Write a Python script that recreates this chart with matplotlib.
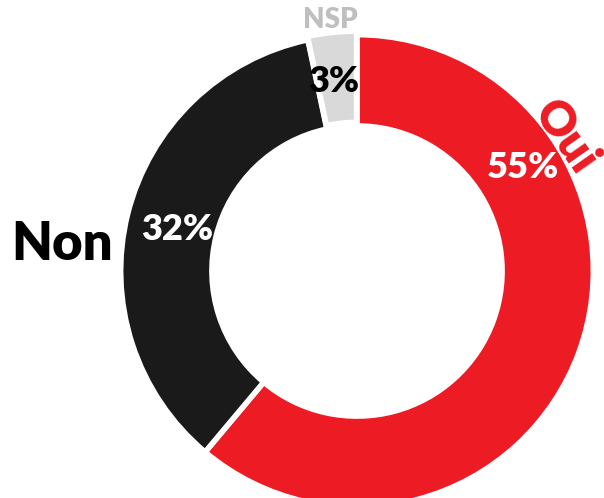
import matplotlib.pyplot as plt

# donnees du sondage
categories = ['Oui', 'Non', 'NSP']
valeurs = [55, 32, 3]
couleurs = ['#ED1C24', '#1A1A1A', '#D9D9D9']

plt.rcParams['font.family'] = ['Lato', 'DejaVu Sans']

fig = plt.figure(figsize=(6.04, 4.98), dpi=100)
ax = fig.add_axes([0, 0, 1, 1])

# centre du donut en pixels (357, 271), rayon 234 px
cx, cy, r_px = 357, 271, 234


def px(x, y):
    return ((x - cx) / r_px, (cy - y) / r_px)


ax.pie(valeurs, colors=couleurs, startangle=90, counterclock=False,
       radius=1.01, explode=[0, 0, 0.015],
       wedgeprops=dict(width=0.39, edgecolor='white', linewidth=4))

ax.set_xlim(-cx / r_px, (604 - cx) / r_px)
ax.set_ylim((cy - 498) / r_px, cy / r_px)
ax.set_aspect('auto')
ax.axis('off')

# pourcentages
ax.text(*px(523, 167), '55%', color='white', fontsize=26, fontweight='heavy',
        ha='center', va='center')
ax.text(*px(177, 229), '32%', color='white', fontsize=26, fontweight='heavy',
        ha='center', va='center')
ax.text(*px(334, 82), '3%', color='black', fontsize=26, fontweight='heavy',
        ha='center', va='center')

# etiquettes
ax.text(*px(62, 244), 'Non', color='black', fontsize=38, fontweight='heavy',
        ha='center', va='center')
ax.text(*px(565, 137), 'Oui', color='#ED1C24', fontsize=34, fontweight='heavy',
        ha='center', va='center', rotation=-55)
ax.text(*px(330, 20), 'NSP', color='#BFBFBF', fontsize=20, fontweight='heavy',
        ha='center', va='center')

fig.savefig('out.png', dpi=100)
